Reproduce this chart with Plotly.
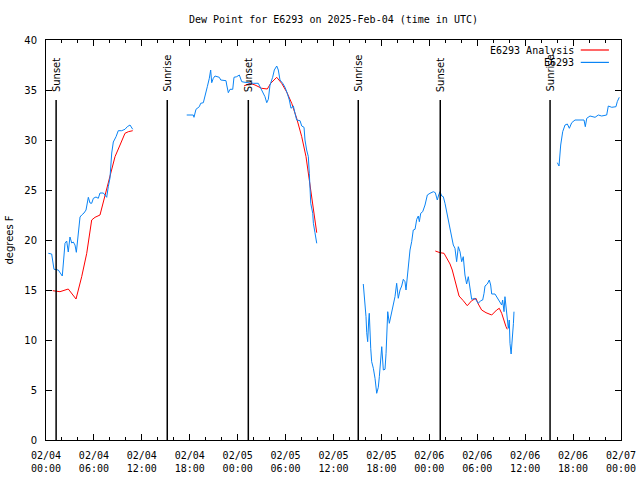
import pandas as pd
import plotly.graph_objects as go

BASE = pd.Timestamp("2025-02-04 00:00")

# Observed dew point (E6293), hours since 2025-02-04 00:00 UTC, in segments (gaps between)
obs_hours_1 = [0.29, 0.71, 1.0, 1.54, 2.04, 2.17, 2.38, 2.59, 2.79, 3.0, 3.22, 3.42, 3.63, 3.80, 4.04, 4.26,
               4.47, 4.76, 5.01, 5.30, 5.51, 5.72, 5.93, 6.26, 6.55, 6.76, 7.18, 7.39, 7.60, 7.80, 8.01,
               8.23, 8.43, 8.77, 9.05, 9.48, 9.89, 10.18, 10.52, 10.86]
obs_vals_1 = [18.67, 18.6, 17.07, 17.0, 16.4, 18.0, 19.67, 19.9, 18.8, 20.3, 19.7, 19.8, 19.5, 18.77, 20.8, 22.3,
              22.5, 22.7, 23.0, 24.27, 23.7, 23.67, 24.17, 24.3, 24.17, 24.7, 24.7, 24.5, 24.27, 25.33, 26.2,
              28.7, 29.8, 30.33, 30.93, 30.93, 31.07, 31.33, 31.5, 31.07]

obs_hours_2 = [17.62, 18.44, 18.53, 18.78, 19.2, 19.37, 19.70, 19.91, 20.20, 20.45, 20.62, 20.75, 20.95, 21.16,
               21.70, 21.88, 22.54, 22.63, 22.83, 23.04, 23.38, 23.54, 23.88, 24.21, 24.51, 24.92, 25.55,
               25.96, 26.58, 26.80, 27.13, 27.42, 27.64, 27.84, 28.05, 28.38, 28.59, 28.89, 29.09, 29.30,
               29.64, 29.93, 30.21, 30.47, 30.68, 30.97, 31.18, 31.39, 31.81, 32.02, 32.31, 32.43, 32.64,
               32.85, 32.97, 33.06, 33.15, 33.40, 33.48, 33.68, 33.90]
obs_vals_2 = [32.5, 32.5, 32.27, 33.07, 33.33, 33.67, 33.73, 34.33, 35.33, 36.17, 37.0, 35.73, 36.17, 36.4,
              36.27, 36.0, 35.93, 35.5, 34.73, 35.07, 35.07, 36.27, 36.33, 36.5, 35.83, 35.77, 35.67,
              35.67, 35.67, 35.33, 34.73, 34.33, 33.73, 34.07, 35.5, 36.27, 37.0, 37.4, 37.0, 36.0,
              35.67, 35.27, 34.67, 34.0, 33.17, 33.4, 32.67, 32.0, 31.93, 31.4, 31.27, 30.0, 29.0,
              28.33, 26.67, 25.0, 23.67, 22.67, 21.67, 20.73, 19.67]

obs_hours_3 = [39.73, 39.94, 40.07, 40.16, 40.28, 40.41, 40.48, 40.66, 40.78, 40.99, 41.20, 41.41, 41.61,
               41.74, 41.91, 42.04, 42.24, 42.45, 42.58, 42.66, 42.79, 42.99, 43.29, 43.49, 43.70, 43.91,
               44.11, 44.33, 44.54, 44.74, 44.95, 45.08, 45.24, 45.37, 45.58, 45.79, 45.99, 46.21, 46.42,
               46.62, 46.75, 46.92, 47.17, 47.46, 47.75, 48.08, 48.50, 48.75, 49.0, 49.17, 49.34, 49.55,
               49.75, 49.96, 50.17, 50.38, 50.59, 50.80, 51.00, 51.21, 51.42, 51.63, 51.84, 52.05, 52.25,
               52.46, 52.67, 52.88, 53.09, 53.30, 53.71, 53.93, 54.13, 54.43, 54.68, 54.85, 54.97, 55.26,
               55.51, 55.68, 55.81, 56.22, 56.43, 56.64, 56.85, 57.06, 57.18, 57.35, 57.47, 57.68, 57.89,
               58.01, 58.10, 58.24, 58.37, 58.53, 58.60]
obs_vals_3 = [15.6, 13.83, 12.33, 10.73, 9.83, 12.0, 12.67, 9.17, 7.83, 7.17, 6.17, 4.67, 5.27,
              6.33, 8.33, 9.33, 7.0, 7.07, 8.67, 11.33, 12.83, 11.67, 12.83, 13.33, 14.33, 15.67,
              14.17, 15.0, 15.4, 16.07, 15.83, 15.0, 16.33, 17.5, 19.0, 19.83, 21.0, 21.07, 22.07,
              22.4, 21.83, 22.67, 22.83, 23.5, 24.5, 24.67, 24.83, 24.73, 24.0, 24.5, 24.83, 24.4,
              24.33, 23.67, 22.83, 22.17, 21.17, 20.17, 19.5, 19.17, 17.83, 19.33, 18.83, 17.83, 18.33,
              16.5, 15.6, 16.33, 15.0, 14.07, 14.17, 13.83, 13.67, 13.93, 14.0, 14.67, 15.4, 15.6,
              16.0, 15.5, 14.6, 14.6, 14.33, 14.0, 13.83, 13.5, 14.0, 12.83, 14.33, 12.5, 11.17,
              12.0, 9.67, 8.6, 9.67, 11.67, 12.83]

obs_hours_4 = [64.03, 64.24, 64.45, 64.70, 64.99, 65.28, 65.53, 65.83, 66.24, 66.87, 67.37, 67.53, 67.71,
               68.12, 68.75, 69.16, 69.58, 70.21, 70.41, 70.84, 71.37, 71.53, 71.78]
obs_vals_4 = [27.73, 27.4, 29.5, 30.83, 31.5, 31.6, 31.17, 31.73, 32.0, 32.0, 32.0, 31.33, 32.17,
              32.4, 32.27, 32.5, 32.4, 32.5, 33.4, 33.27, 33.33, 33.83, 34.27]

# Analysis dew point (E6293 Analysis)
ana_hours_1 = [0.84, 1.75, 2.79, 3.76, 4.47, 5.10, 5.72, 6.14, 6.76, 7.39, 8.01, 8.64, 9.27, 9.89, 10.31, 10.86]
ana_vals_1 = [14.93, 14.83, 15.1, 14.1, 16.33, 18.67, 22.0, 22.27, 22.5, 24.5, 26.17, 28.33, 29.5, 30.67, 30.83, 30.93]

ana_hours_2 = [24.79, 25.55, 26.17, 27.01, 27.71, 28.14, 28.89, 29.51, 30.14, 30.77, 31.39, 32.02, 32.56,
               32.85, 33.15, 33.48, 33.90]
ana_vals_2 = [35.4, 35.67, 35.5, 35.17, 35.1, 35.67, 36.27, 35.67, 34.8, 33.67, 32.17, 30.33, 28.33,
              26.67, 25.0, 22.67, 20.73]

ana_hours_3 = [48.75, 49.34, 49.84, 50.17, 50.59, 50.87, 51.21, 51.72, 52.25, 52.75, 53.30, 53.84, 54.13,
               54.55, 55.10, 55.81, 56.43, 56.76, 57.06, 57.35, 57.60, 57.76]
ana_vals_3 = [18.9, 18.73, 18.67, 18.17, 17.6, 17.0, 15.83, 14.4, 13.93, 13.43, 13.93, 14.17, 13.6,
              13.0, 12.73, 12.5, 13.0, 13.17, 12.67, 11.83, 11.33, 11.07]

# Sun events (UTC)
sun_times = ["2025-02-04 01:16", "2025-02-04 15:11", "2025-02-05 01:20",
             "2025-02-05 15:06", "2025-02-06 01:22", "2025-02-06 15:07"]
sun_labels = ["Sunset", "Sunrise", "Sunset", "Sunrise", "Sunset", "Sunrise"]

# Axis ticks
tick_times = ["2025-02-04 00:00", "2025-02-04 06:00", "2025-02-04 12:00", "2025-02-04 18:00",
              "2025-02-05 00:00", "2025-02-05 06:00", "2025-02-05 12:00", "2025-02-05 18:00",
              "2025-02-06 00:00", "2025-02-06 06:00", "2025-02-06 12:00", "2025-02-06 18:00",
              "2025-02-07 00:00"]
tick_labels = ["02/04<br>00:00", "02/04<br>06:00", "02/04<br>12:00", "02/04<br>18:00",
               "02/05<br>00:00", "02/05<br>06:00", "02/05<br>12:00", "02/05<br>18:00",
               "02/06<br>00:00", "02/06<br>06:00", "02/06<br>12:00", "02/06<br>18:00",
               "02/07<br>00:00"]
y_ticks = [0, 5, 10, 15, 20, 25, 30, 35, 40]

RED = "#FF0000"
BLUE = "#0A84F5"
MONO = "DejaVu Sans Mono"
SANS = "DejaVu Sans"


def join_segments(segs):
    xs, ys = [], []
    for hrs, vals in segs:
        if xs:
            xs.append(None)
            ys.append(None)
        xs.extend(BASE + pd.to_timedelta(h, unit="h") for h in hrs)
        ys.extend(vals)
    return xs, ys


obs_x, obs_y = join_segments([(obs_hours_1, obs_vals_1), (obs_hours_2, obs_vals_2),
                              (obs_hours_3, obs_vals_3), (obs_hours_4, obs_vals_4)])
ana_x, ana_y = join_segments([(ana_hours_1, ana_vals_1), (ana_hours_2, ana_vals_2),
                              (ana_hours_3, ana_vals_3)])

fig = go.Figure()
fig.add_trace(go.Scatter(x=ana_x, y=ana_y, mode="lines", name="E6293 Analysis",
                         line=dict(color=RED, width=1), connectgaps=False, showlegend=False))
fig.add_trace(go.Scatter(x=obs_x, y=obs_y, mode="lines", name="E6293",
                         line=dict(color=BLUE, width=1), connectgaps=False, showlegend=False))

for t, lab in zip(sun_times, sun_labels):
    fig.add_shape(type="line", xref="x", yref="paper", x0=t, x1=t, y0=0, y1=0.85,
                  line=dict(color="black", width=1.5))
    fig.add_annotation(x=t, xref="x", y=0.865, yref="paper", text=lab, textangle=-90,
                       showarrow=False, xanchor="center", yanchor="bottom",
                       font=dict(family=SANS, size=10, color="black"))

# Legend drawn gnuplot style (text right-aligned, sample on the right)
legend_rows = [("E6293 Analysis", RED, 0.975), ("E6293", BLUE, 0.944)]
for name, col, yy in legend_rows:
    fig.add_annotation(x=0.921, xref="paper", y=yy, yref="paper", text=name, showarrow=False,
                       xanchor="right", yanchor="middle", font=dict(family=MONO, size=10, color="black"))
    fig.add_shape(type="line", xref="paper", yref="paper", x0=0.930, x1=0.979, y0=yy, y1=yy,
                  line=dict(color=col, width=1.2))

fig.update_layout(
    width=640, height=480,
    margin=dict(l=46, r=19, t=40, b=40, autoexpand=False),
    paper_bgcolor="white", plot_bgcolor="white",
    title=dict(text="Dew Point for E6293 on 2025-Feb-04 (time in UTC)", x=0.5, xanchor="center",
               xref="paper", yref="container", y=0.96, yanchor="middle", automargin=False,
               font=dict(family=MONO, size=10, color="black")),
    showlegend=False,
)
fig.update_xaxes(
    type="date", range=["2025-02-04 00:00", "2025-02-07 00:00"], automargin=False,
    tickvals=tick_times, ticktext=tick_labels, tickfont=dict(family=MONO, size=10, color="black"),
    ticks="inside", ticklen=6, tickcolor="black", showline=True, linecolor="black", linewidth=1,
    mirror="ticks", showgrid=False, zeroline=False, ticklabelstandoff=6,
    minor=dict(ticks="inside", ticklen=3, dtick=2 * 3600 * 1000, tick0="2025-02-04", tickcolor="black",
               showgrid=False),
)
fig.update_yaxes(
    range=[0, 40], tickvals=y_ticks, automargin=False,
    tickfont=dict(family=SANS, size=10, color="black"),
    ticks="inside", ticklen=6, tickcolor="black", showline=True, linecolor="black", linewidth=1,
    mirror="ticks", showgrid=False, zeroline=False, ticklabelstandoff=6,
    title=dict(text="degrees F", font=dict(family=SANS, size=10, color="black"), standoff=8),
)

fig.write_html("out.html", config={"displayModeBar": False},
               post_script="document.body.style.margin='0px';")
